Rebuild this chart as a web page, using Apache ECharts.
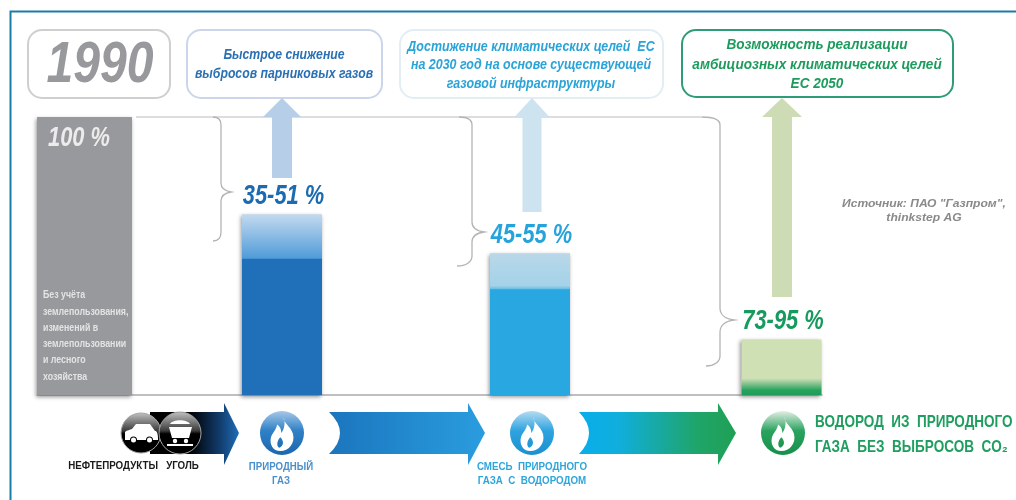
<!DOCTYPE html>
<html><head><meta charset="utf-8">
<script src="https://cdn.jsdelivr.net/npm/echarts@6/dist/echarts.min.js"></script>
<style>html,body{margin:0;padding:0;background:#fff}#c{width:1016px;height:500px}#c canvas{filter:blur(.4px)}</style>
</head><body><div id="c"></div>
<script>
const categories = ['1990', 'Природный газ', 'Смесь природного газа с водородом', 'Водород из природного газа без выбросов CO₂'];
const baseValue = [100];
const lowValues = [49, 38, 6];
const highValues = [65, 51, 20];
const rangeLabels = ['35-51 %', '45-55 %', '73-95 %'];
const baseLabel = '100 %';

const FONT = '"Liberation Sans",Arial,sans-serif';
const barX = [282, 530, 781.5];
const grayX = 84.5;
const COL = { blue: '#1f6fb9', cyan: '#29a7e1', green: '#1f9d58', gray: '#97999c' };
const lg = (x, y, x2, y2, stops) => new echarts.graphic.LinearGradient(x, y, x2, y2, stops.map(s => ({ offset: s[0], color: s[1] })));

const lowFill = [COL.blue, COL.cyan, lg(0, 0, 0, 1, [[0, '#cfe0b5'], [0.35, '#7fc08c'], [0.72, '#25a35e'], [1, COL.green]])];
const rangeFill = highValues.map((h, i) => {
  const split = (h - lowValues[i]) / h;
  return i === 0 ? lg(0, 0, 0, 1, [[0, '#c3daef'], [split, '#4f9bd8'], [1, '#4f9bd8']])
    : i === 1 ? lg(0, 0, 0, 1, [[0, '#b9d8e8'], [split * 0.9, '#a4d2e8'], [split, '#5cbbe6'], [1, '#5cbbe6']])
    : '#cfe0b5';
});
const labelColors = ['#1b6bb0', '#27a3dc', '#179a5e'];

const T = (x, y, text, fill, size, sx, o) => ({
  type: 'text', x, y, z: 20, scaleX: sx,
  style: Object.assign({
    text, fill, fontFamily: FONT, fontSize: size, fontWeight: 'bold',
    fontStyle: 'italic', align: 'center', verticalAlign: 'middle'
  }, o || {})
});
const box = (x, y, w, h, stroke) => ({
  type: 'rect', shape: { x, y, width: w, height: h, r: 14 },
  style: { fill: '#fff', stroke, lineWidth: 2 }
});
const upArrow = (cx, halfShaft, halfHead, tip, base, bottom, fill) => ({
  type: 'polygon',
  shape: { points: [[cx, tip], [cx + halfHead, base], [cx + halfShaft, base], [cx + halfShaft, bottom], [cx - halfShaft, bottom], [cx - halfShaft, base], [cx - halfHead, base]] },
  style: { fill }
});
const P = (pathData, style, rect) => ({ type: 'path', shape: Object.assign({ pathData }, rect || {}), style });
const brace = d => P(d, { fill: 'none', stroke: '#b4b4b4', lineWidth: 1.3 });
const topLine = (x0, x1) => ({ type: 'line', shape: { x1: x0, y1: 117, x2: x1, y2: 117 }, style: { stroke: '#d2d2d2', lineWidth: 1.3 } });
const flowArrow = (x0, bite, headBase, tip, fill) => P(
  `M${x0} 412 ${bite ? `Q${x0 + 2 * bite} 433 ${x0} 454` : `L${x0} 454`} L${headBase} 454 L${headBase} 465 L${tip} 433 L${headBase} 403 L${headBase} 412 Z`, { fill });
const circ = (cx, cy, r, style) => ({ type: 'circle', shape: { cx, cy, r }, style });
const FLAME = 'M13 0 C13 6 20 9 22 16 C24 25 18 32 10 32 C3 32 0 26 1 20 C2 15 6 13 7 7 C10 9 11 12 11 15 C14 11 15 5 13 0 Z M10 19 C7 22 6 27 9 29 C13 27 14 23 10 19 Z';
const disc = (cx, cy, r, top, mid, bot) => [
  circ(cx, cy, r, { fill: lg(0, 0, 0, 1, [[0, top], [0.45, mid], [1, bot]]) }),
  P(FLAME, { fill: '#fff' }, { x: cx - 12, y: cy - 16, width: 24, height: 34 })
];
const darkDisc = (cx, cy, r) => circ(cx, cy, r, { fill: lg(0, 0, 0, 1, [[0, '#c4c4c4'], [0.45, '#3a3a3a'], [0.52, '#000'], [1, '#000']]), stroke: '#a5a5a5', lineWidth: 1 });

const decor = [
  { type: 'polyline', shape: { points: [[10.5, 500], [10.5, 11.5], [1016, 11.5]] }, style: { stroke: '#1a7da8', lineWidth: 2, fill: 'none' } },
  box(28, 30, 142, 68, '#cfcfcf'), box(187, 30, 195, 68, '#cbd6ea'), box(400, 30, 263, 68, '#e2edf4'), box(682, 30, 271, 67, '#2f9c78'),
  topLine(136, 213), topLine(213, 459), topLine(459, 702),
  brace('M213 117 C218 117 221 119 221 125 L221 183 C221 188 225 191 231 192 C225 193 221 196 221 201 L221 232 C221 238 218 241 213 241'),
  brace('M459 117 C467 117 472 119 472 125 L472 222 C472 228 477 231 484 232 C477 233 472 236 472 242 L472 256 C472 262 466 266 457 266'),
  brace('M702 117 C714 117 720 119 720 125 L720 308 C720 315 726 319 734 320 C726 321 720 325 720 332 L720 356 C720 362 714 366 706 366'),
  upArrow(282, 10, 19, 98, 117, 178, '#b6cee8'),
  upArrow(532, 9.5, 17.5, 98, 117, 212, '#cde3ef'),
  upArrow(782, 10, 20, 98, 117, 297, '#cedcb5'),
  flowArrow(150, 0, 224, 239, lg(0, 0, 1, 0, [[0, '#000'], [0.45, '#000'], [0.8, '#123f72'], [1, '#1f6fb9']])),
  flowArrow(329, 11, 468, 485, lg(0, 0, 1, 0, [[0, '#1b75bd'], [1, '#2a9ddf']])),
  flowArrow(579, 10, 718, 736, lg(0, 0, 1, 0, [[0, '#08aeea'], [0.25, '#10aedd'], [0.75, '#1fa56a'], [1, '#1fa055']])),
  darkDisc(141, 433, 20), darkDisc(180, 433, 21),
  P('M125 440 L125 432 C127 430 130 430 132 429 L136 424 L150 424 L155 431 C157 431 158 433 158 440 L153 440 A3.5 3.5 0 0 0 146 440 L137 440 A3.5 3.5 0 0 0 130 440 Z', { fill: '#fff' }),
  P('M169 427 L192 427 L189 438 L172 438 Z M167 444 L193 444 L193 446 L167 446 Z M170 424 C173 419 187 419 190 424 Z', { fill: '#fff' }),
  circ(133.5, 440, 2.5, { fill: '#fff' }), circ(149.5, 440, 2.5, { fill: '#fff' }),
  circ(175, 441, 2.2, { fill: '#fff' }), circ(186, 441, 2.2, { fill: '#fff' }),
  ...disc(282, 433, 22, '#a6c8e8', '#2f80c6', '#1c66ad'),
  ...disc(532, 433, 22, '#b5dbf0', '#2ea3e0', '#1c8fd0'),
  ...disc(783, 433, 22, '#e2efe4', '#2aa35f', '#178f4c')
];

const upright = { fontStyle: 'normal' };
const texts = [
  T(100, 66, '1990', COL.gray, 58, 0.83),
  T(284, 64.5, 'Быстрое снижение\nвыбросов парниковых газов', '#2a70b4', 14, 0.875, { lineHeight: 19 }),
  T(531, 65.5, 'Достижение климатических целей  ЕС\nна 2030 год на основе существующей\nгазовой инфраструктуры', '#2aa4d8', 14, 0.89, { lineHeight: 18.5 }),
  T(817, 64.5, 'Возможность реализации\nамбициозных климатических целей\nЕС 2050', '#1c9c5c', 15, 0.905, { lineHeight: 19.5 }),
  T(43, 336, 'Без учёта\nземлепользования,\nизменений в\nземлепользовании\nи лесного\nхозяйства', '#e4e4e4', 11, 0.8, { fontStyle: 'normal', align: 'left', lineHeight: 16.3 }),
  T(133.5, 466, 'НЕФТЕПРОДУКТЫ   УГОЛЬ', '#1a1a1a', 11.5, 0.85, upright),
  T(281, 474, 'ПРИРОДНЫЙ\nГАЗ', '#4a8fcc', 11.5, 0.84, { fontStyle: 'normal', lineHeight: 14.5 }),
  T(532, 474, 'СМЕСЬ  ПРИРОДНОГО\nГАЗА  С  ВОДОРОДОМ', '#2ea6da', 11.5, 0.85, { fontStyle: 'normal', lineHeight: 14.5 }),
  T(815, 435, 'ВОДОРОД  ИЗ  ПРИРОДНОГО\nГАЗА  БЕЗ  ВЫБРОСОВ  CO₂', '#1f9e5f', 16.5, 0.82, { fontStyle: 'normal', align: 'left', lineHeight: 25 }),
  T(924, 211, 'Источник: ПАО "Газпром",\nthinkstep AG', '#8a8a8a', 11, 1.1, { lineHeight: 14 })
];

const shadow = { shadowColor: 'rgba(60,60,60,.55)', shadowBlur: 4, shadowOffsetX: -1.5, shadowOffsetY: 1.5 };
const axisX = (line) => ({
  type: 'value', min: 37, max: 822, gridIndex: 0, show: true,
  axisLine: { show: line, onZero: true, lineStyle: { color: '#aaaaaa', width: 1.5 } },
  axisTick: { show: false }, axisLabel: { show: false }, splitLine: { show: false }
});
const labelItem = (api, dx, dy, size, color, text, sx) => {
  const p = api.coord([api.value(0), api.value(1)]);
  return {
    type: 'text', x: p[0] + dx, y: p[1] + dy, scaleX: sx, z2: 5,
    style: { text, fill: color, fontFamily: FONT, fontSize: size, fontWeight: 'bold', fontStyle: 'italic', align: 'center', verticalAlign: 'middle' }
  };
};

const chart = echarts.init(document.getElementById('c'), null, { renderer: 'canvas' });
chart.setOption({
  animation: false,
  backgroundColor: '#ffffff',
  grid: { left: 37, width: 785, top: 117, height: 278, containLabel: false },
  xAxis: [axisX(true), axisX(false)],
  yAxis: { type: 'value', min: 0, max: 100, show: false },
  series: [
    {
      name: 'decor', type: 'custom', coordinateSystem: 'none', silent: true, z: 1,
      data: [0],
      renderItem: () => ({ type: 'group', children: decor })
    },
    {
      name: categories[0], type: 'bar', xAxisIndex: 1, barWidth: 95, z: 2,
      data: baseValue.map(v => [grayX, v]),
      itemStyle: Object.assign({ color: COL.gray }, shadow)
    },
    {
      name: 'high', type: 'bar', xAxisIndex: 0, barWidth: 80, barGap: '-100%', z: 3,
      data: highValues.map((v, i) => ({ value: [barX[i], v], itemStyle: { color: rangeFill[i] } })),
      itemStyle: shadow
    },
    {
      name: 'low', type: 'bar', xAxisIndex: 0, barWidth: 80, barGap: '-100%', z: 4,
      data: lowValues.map((v, i) => ({ value: [barX[i], v], itemStyle: { color: lowFill[i] } }))
    },
    {
      name: 'rangeLabels', type: 'custom', xAxisIndex: 0, z: 6,
      data: highValues.map((v, i) => [barX[i], v]),
      renderItem: (params, api) => labelItem(api, 1.5, -17.5, 27, labelColors[params.dataIndex], rangeLabels[params.dataIndex], 0.81)
    },
    {
      name: 'baseLabel', type: 'custom', xAxisIndex: 1, z: 6,
      data: baseValue.map(v => [grayX, v]),
      renderItem: (params, api) => labelItem(api, -5.5, 22, 27, '#ececec', baseLabel, 0.81)
    }
  ],
  graphic: { elements: texts }
});
</script></body></html>
